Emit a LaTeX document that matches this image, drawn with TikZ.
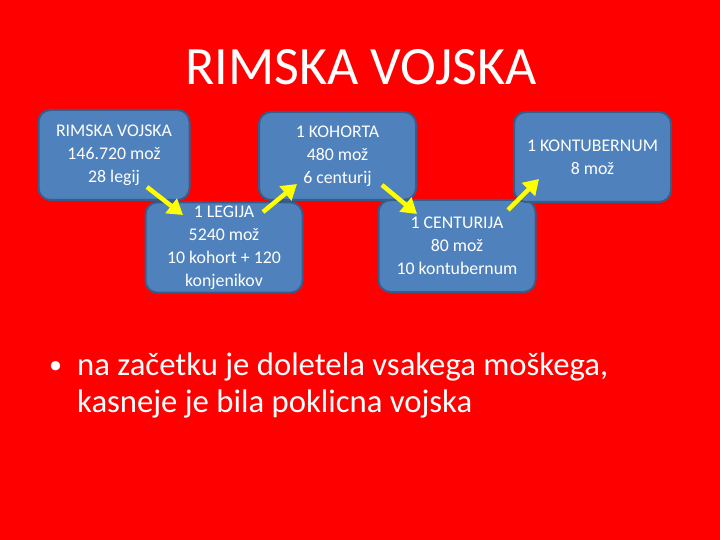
\documentclass[tikz,border=0pt]{standalone}
\usepackage{fontspec}
\setmainfont{Carlito}
\usetikzlibrary{arrows.meta}
\definecolor{slidered}{RGB}{255,0,0}
\definecolor{boxblue}{RGB}{79,129,189}
\definecolor{boxedge}{RGB}{56,93,138}
\definecolor{arrowyellow}{RGB}{255,255,0}
\tikzset{unit/.style={draw=boxedge, line width=2pt, fill=boxblue, rounded corners=12pt,
    text=white, align=center, minimum width=157pt, minimum height=90pt,
    font=\fontsize{17.8}{23}\selectfont},
  down/.style={-{Triangle[length=15pt,width=18pt]}, draw=arrowyellow, line width=4.5pt}}

\begin{document}
\begin{tikzpicture}[x=1pt, y=-1pt]
    \fill[slidered] (0,0) rectangle (720,540);
    \node[anchor=base, text=white, font=\fontsize{54}{60}\selectfont] (title) at (361,85) {RIMSKA VOJSKA};

    \node[unit, minimum width=151pt] (army) at (114,155) {RIMSKA VOJSKA\\146.720 mož\\28 legij};
    \node[unit] (legion) at (224,247.5) {1 LEGIJA\\5240 mož\\10 kohort + 120\\konjenikov};
    \node[unit, minimum height=88pt] (cohort) at (337.5,156) {1 KOHORTA\\480 mož\\6 centurij};
    \node[unit, minimum height=92pt] (century) at (457,246) {1 CENTURIJA\\80 mož\\10 kontubernum};
    \node[unit] (squad) at (592.5,157) {1 KONTUBERNUM\\8 mož};

    % arrow ends
    \coordinate (a1) at (147,187);
    \coordinate (b1) at (183,215);
    \coordinate (a2) at (263,212);
    \coordinate (b2) at (297,184);
    \coordinate (a3) at (382,185);
    \coordinate (b3) at (417,214);
    \coordinate (a4) at (508,210);
    \coordinate (b4) at (539,179);

    \draw[down] (a1) -- (b1);
    \draw[down] (a2) -- (b2);
    \draw[down] (a3) -- (b3);
    \draw[down] (a4) -- (b4);

    \node[anchor=base west, text=white, font=\fontsize{26}{37}\selectfont, inner sep=0pt] (dot) at (49,373) {•};
    \node[anchor=base west, text=white, align=left, inner sep=0pt,
      font=\fontsize{32.7}{37}\selectfont] (note) at (77,412)
      {na začetku je doletela vsakega moškega,\\kasneje je bila poklicna vojska};
\end{tikzpicture}
\end{document}
